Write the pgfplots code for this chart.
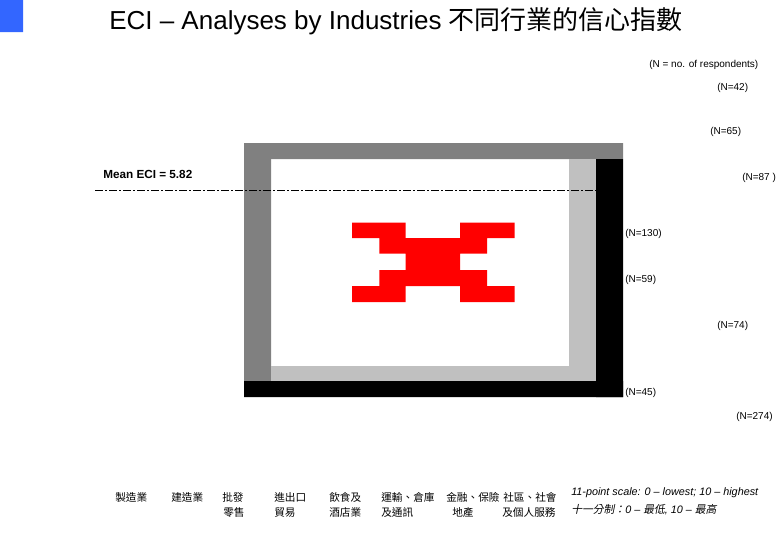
\documentclass[border=0pt]{standalone}
\usepackage{pgfplots}
\pgfplotsset{compat=1.18}
\usepackage{fontspec}
\setmainfont{Liberation Sans}
\newfontfamily\cjk{Noto Sans CJK TC}
\newfontfamily\cjkit[FakeSlant=0.2]{Noto Sans CJK TC}
\definecolor{dkgray}{RGB}{128,128,128}
\definecolor{ltgray}{RGB}{192,192,192}
\definecolor{slideblue}{RGB}{51,102,255}
\begin{document}
\begin{tikzpicture}
\begin{axis}[scale only axis, width=585pt, height=405pt,
  xmin=0, xmax=780, ymin=0, ymax=540, y dir=reverse,
  hide axis, clip=false]
% page extent
\addplot[draw=none, mark=none] coordinates {(0,0) (780,540)};
% blue corner block
\addplot[fill=slideblue, draw=none] coordinates {(0,0) (23,0) (23,32) (0,32) (0,0)};
% frame of the (broken) chart image
\addplot[fill=dkgray, draw=none] coordinates {(244,143) (623,143) (623,159) (244,159) (244,143)};
\addplot[fill=dkgray, draw=none] coordinates {(244,143) (271,143) (271,381) (244,381) (244,143)};
\addplot[fill=ltgray, draw=none] coordinates {(569,159) (596,159) (596,381) (569,381) (569,159)};
\addplot[fill=ltgray, draw=none] coordinates {(271,366) (596,366) (596,381) (271,381) (271,366)};
\addplot[fill=black, draw=none] coordinates {(596,159) (623,159) (623,397) (596,397) (596,159)};
\addplot[fill=black, draw=none] coordinates {(244,381) (623,381) (623,397) (244,397) (244,381)};
% red cross
\addplot[fill=red, draw=none] coordinates {
 (352,222.7) (405.7,222.7) (405.7,238) (460,238) (460,222.7) (514.7,222.7)
 (514.7,238) (487,238) (487,253.7) (460,253.7) (460,270) (487,270)
 (487,286) (514.7,286) (514.7,302) (460,302) (460,286) (405.7,286)
 (405.7,302) (352,302) (352,286) (379.3,286) (379.3,270) (405.7,270)
 (405.7,253.7) (379.3,253.7) (379.3,238) (352,238) (352,222.7)};
% mean line
\addplot[black, line width=0.9pt, dash pattern=on 6pt off 1.5pt on 1.5pt off 1.5pt] coordinates {(95,190.7) (596,190.7)};
\node[anchor=west, inner sep=0pt, font=\fontsize{8.8}{10}\selectfont\bfseries] at (axis cs:103,174) {Mean ECI = 5.82};
% title
\node[anchor=base west, inner sep=0pt] at (axis cs:109,29) {\fontsize{19.5}{22}\selectfont ECI – Analyses by Industries {\cjk\fontsize{19.5}{22}\selectfont 不同行業的信心指數}};
% N labels
\begin{scope}[every node/.style={anchor=west, inner sep=0pt, font=\fontsize{7.5}{9}\selectfont}]
\node at (axis cs:649,65) {(N = no. of respondents)};
\node at (axis cs:717,87.7) {(N=42)};
\node at (axis cs:710,132) {(N=65)};
\node at (axis cs:742,178) {(N=87 )};
\node at (axis cs:625,234) {(N=130)};
\node at (axis cs:625,280) {(N=59)};
\node at (axis cs:717,326) {(N=74)};
\node at (axis cs:625,393) {(N=45)};
\node at (axis cs:736,417) {(N=274)};
\end{scope}
% category labels
\begin{scope}[every node/.style={anchor=west, inner sep=0pt, font=\cjk\fontsize{8}{9}\selectfont}]
\node at (axis cs:115,497) {製造業};
\node at (axis cs:171,497) {建造業};
\node at (axis cs:222,497) {批發};
\node at (axis cs:223,512) {零售};
\node at (axis cs:274,497) {進出口};
\node at (axis cs:274,512) {貿易};
\node at (axis cs:329,497) {飲食及};
\node at (axis cs:329,512) {酒店業};
\node at (axis cs:381,497) {運輸、倉庫};
\node at (axis cs:381,512) {及通訊};
\node at (axis cs:446,497) {金融、保險};
\node at (axis cs:452,512) {地產};
\node at (axis cs:503,497) {社區、社會};
\node at (axis cs:502,512) {及個人服務};
\end{scope}
% scale note
\node[anchor=west, inner sep=0pt, font=\fontsize{8.1}{9}\selectfont\itshape] at (axis cs:571,493) {11-point scale: 0 – lowest; 10 – highest};
\node[anchor=west, inner sep=0pt, font=\fontsize{8.1}{9}\selectfont\itshape] at (axis cs:571,510) {{\cjkit 十一分制：}0 – {\cjkit 最低}, 10 – {\cjkit 最高}};
\end{axis}
\end{tikzpicture}
\end{document}
